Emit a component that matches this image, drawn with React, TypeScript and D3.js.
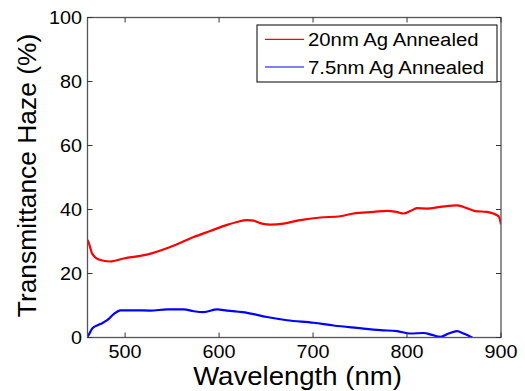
import React from "react";
import * as d3 from "d3";

const redX = [460, 461, 465, 472, 484, 498.5, 523, 548, 573, 590.7, 608.5, 619, 629.8, 636.8, 645.7, 654.6, 668.7, 686.5, 707.8, 729, 743, 764.5, 778.7, 789.4, 796.4, 803.5, 810.6, 821.3, 835.4, 853.2, 860.2, 872.7, 885, 897.4, 900];
const redY = [30.5, 29.9, 26.2, 24.4, 23.75, 24.7, 25.9, 28.3, 31.4, 33.3, 35.2, 36.1, 36.7, 36.5, 35.6, 35.3, 35.6, 36.7, 37.5, 37.9, 38.75, 39.25, 39.6, 39.2, 38.75, 39.5, 40.4, 40.3, 40.8, 41.3, 40.8, 39.5, 39.25, 37.9, 35.4];

const blueX = [460, 461, 465, 473.7, 480.9, 487.9, 495, 509, 527, 544.7, 562.3, 573, 583.6, 597.9, 608.5, 629.8, 651, 672.3, 700.6, 722, 746.8, 771.6, 789.4, 803.5, 817.7, 826.6, 835.4, 844.3, 853.2, 860.2, 869.1, 875];
const blueY = [0.3, 0.7, 2.8, 4.2, 5.4, 7.3, 8.5, 8.5, 8.4, 8.8, 8.8, 8.2, 7.9, 8.8, 8.4, 7.7, 6.4, 5.4, 4.6, 3.75, 3.0, 2.3, 2.0, 1.25, 1.4, 0.8, 0.2, 1.25, 2.0, 1.25, 0, -1];

const xTicks = [500, 600, 700, 800, 900];
const yTicks = [0, 20, 40, 60, 80, 100];
const seriesNames = ["20nm Ag Annealed", "7.5nm Ag Annealed"];
const seriesColors = ["#ff0000", "#0000ff"];

const W = 525, H = 391;
const L = 87.5, R = 501, T = 17.5, B = 337.5;

export default function App() {
  const x = d3.scaleLinear().domain([460, 900]).range([L, R]);
  const y = d3.scaleLinear().domain([0, 100]).range([B, T]);
  const line = d3.line<[number, number]>().x(d => x(d[0])).y(d => y(d[1])).curve(d3.curveMonotoneX);
  const red = redX.map((v, i) => [v, redY[i]] as [number, number]);
  const blue = blueX.map((v, i) => [v, blueY[i]] as [number, number]);
  const font = "'Liberation Sans', Arial, sans-serif";
  const tl = 5;
  return (
    <svg width={W} height={H} style={{ position: "absolute", left: 0, top: 0, background: "#fff" }} fontFamily={font}>
      <defs>
        <clipPath id="clip"><rect x={L} y={T} width={R - L} height={B - T} /></clipPath>
      </defs>
      <rect x={0} y={0} width={W} height={H} fill="#fff" />
      <g clipPath="url(#clip)">
        <path d={line(red) || ""} fill="none" stroke={seriesColors[0]} strokeWidth={2.2} />
        <path d={line(blue) || ""} fill="none" stroke={seriesColors[1]} strokeWidth={2.2} />
      </g>
      <rect x={L} y={T} width={R - L} height={B - T} fill="none" stroke="#555" strokeWidth={1.3} />
      {xTicks.map(t => (
        <g key={"x" + t}>
          <line x1={x(t)} x2={x(t)} y1={B} y2={B - tl} stroke="#333" />
          <line x1={x(t)} x2={x(t)} y1={T} y2={T + tl} stroke="#333" />
          <text transform={`translate(${x(t)},358) scale(1.04,1)`} fontSize={19} textAnchor="middle" fill="#000">{t}</text>
        </g>
      ))}
      {yTicks.map(t => (
        <g key={"y" + t}>
          <line x1={L} x2={L + tl} y1={y(t)} y2={y(t)} stroke="#333" />
          <line x1={R} x2={R - tl} y1={y(t)} y2={y(t)} stroke="#333" />
          <text transform={`translate(82,${y(t) + 6.5}) scale(1.04,1)`} fontSize={19} textAnchor="end" fill="#000">{t}</text>
        </g>
      ))}
      <text transform="translate(297.5,385) scale(1.06,1)" fontSize={26} textAnchor="middle" fill="#000">Wavelength (nm)</text>
      <text transform="translate(36,175.5) rotate(-90)" fontSize={26.4} textAnchor="middle" fill="#000">Transmittance Haze (%)</text>
      <rect x={257} y={25} width={240} height={57} fill="#fff" stroke="#000" strokeWidth={1} />
      {seriesNames.map((n, i) => (
        <g key={n}>
          <line x1={265} x2={304} y1={39.3 + i * 27.7} y2={39.3 + i * 27.7} stroke={seriesColors[i]} strokeWidth={1.2} />
          <text transform={`translate(308,${39.3 + i * 27.7 + 6.8}) scale(1.07,1)`} fontSize={19} fill="#000">{n}</text>
        </g>
      ))}
    </svg>
  );
}
